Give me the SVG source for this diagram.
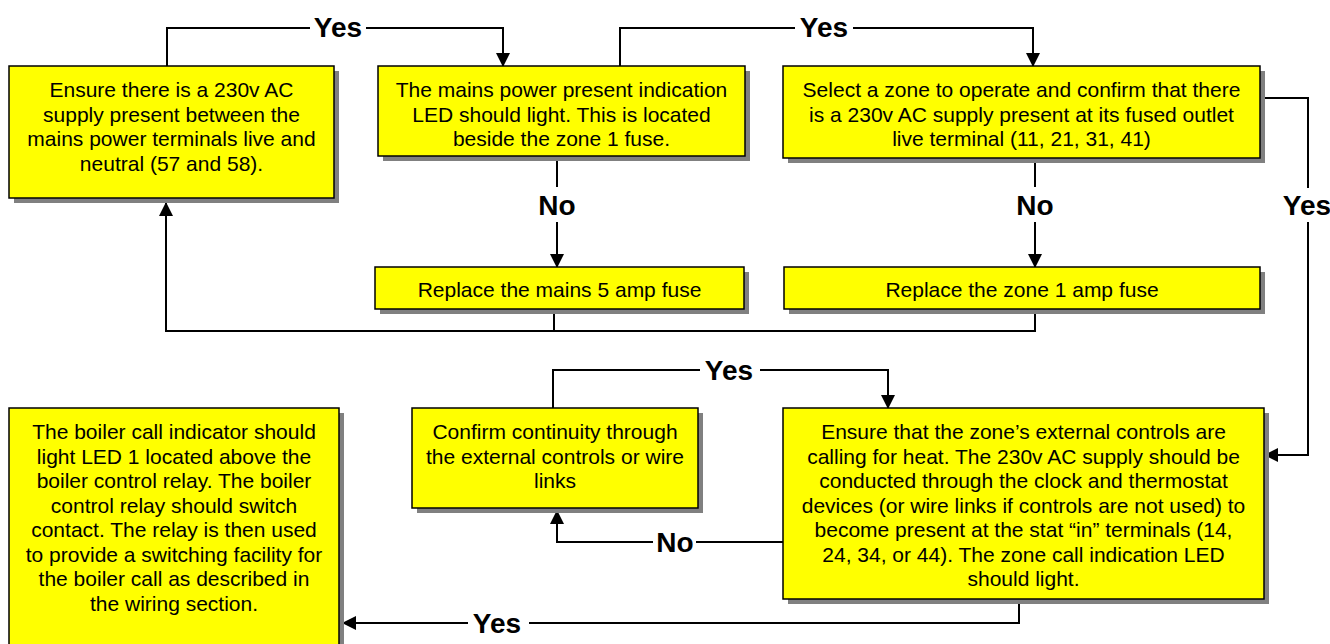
<svg xmlns="http://www.w3.org/2000/svg" width="1330" height="644" viewBox="0 0 1330 644">
  <style>
    .box { fill: #FFFF00; stroke: #000; stroke-width: 1.5; }
    .shadow { fill: #808080; }
    .t { font-family: "Liberation Sans", Arial, sans-serif; font-size: 21px; fill: #000; text-anchor: middle; }
    .lbl { font-family: "Liberation Sans", Arial, sans-serif; font-size: 28px; font-weight: bold; fill: #000; text-anchor: middle; }
    .c { fill: none; stroke: #000; stroke-width: 2; }
    .a { marker-end: url(#arrow); }
  </style>
  <defs>
    <marker id="arrow" viewBox="0 0 14 14" refX="13" refY="7" markerWidth="14" markerHeight="14" markerUnits="userSpaceOnUse" orient="auto">
      <path d="M0,0 L14,7 L0,14 z" fill="#000"/>
    </marker>
  </defs>
  <rect width="1330" height="644" fill="#fff"/>

  <g id="connectors">
    <path class="c" d="M167,66 V28 H310"/>
    <path class="c a" d="M366,28 H503 V66"/>
    <path class="c" d="M620,66 V28 H795"/>
    <path class="c a" d="M853,28 H1033 V66"/>
    <path class="c" d="M557,156 V187"/>
    <path class="c a" d="M557,222 V267"/>
    <path class="c" d="M1035,158 V187"/>
    <path class="c a" d="M1035,222 V267"/>
    <path class="c a" d="M554,309 V331 H166 V203"/>
    <path class="c" d="M1035,309 V331 H554"/>
    <path class="c" d="M1260,98 H1308 V188"/>
    <path class="c a" d="M1308,222 V455 H1265"/>
    <path class="c" d="M553,408 V370 H700"/>
    <path class="c a" d="M760,370 H888 V408"/>
    <path class="c" d="M783,542 H696"/>
    <path class="c a" d="M653,542 H557 V511"/>
    <path class="c" d="M1019,599 V623 H529"/>
    <path class="c a" d="M468,623 H343"/>
    <text class="lbl" x="338" y="37">Yes</text>
    <text class="lbl" x="824" y="37">Yes</text>
    <text class="lbl" x="557" y="215">No</text>
    <text class="lbl" x="1035" y="215">No</text>
    <text class="lbl" x="1307" y="215">Yes</text>
    <text class="lbl" x="729" y="380">Yes</text>
    <text class="lbl" x="675" y="552">No</text>
    <text class="lbl" x="497" y="633">Yes</text>
  </g>

  <g id="n1">
    <rect class="shadow" x="14" y="71" width="325" height="132"/>
    <rect class="box" x="9" y="66" width="325" height="132"/>
    <text class="t" x="171.5" y="97">Ensure there is a 230v AC</text>
    <text class="t" x="171.5" y="121.5">supply present between the</text>
    <text class="t" x="171.5" y="146">mains power terminals live and</text>
    <text class="t" x="171.5" y="170.5">neutral (57 and 58).</text>
  </g>

  <g id="n2">
    <rect class="shadow" x="383" y="71" width="367" height="90"/>
    <rect class="box" x="378" y="66" width="367" height="90"/>
    <text class="t" x="561.5" y="97">The mains power present indication</text>
    <text class="t" x="561.5" y="121.5">LED should light. This is located</text>
    <text class="t" x="561.5" y="146">beside the zone 1 fuse.</text>
  </g>

  <g id="n3">
    <rect class="shadow" x="788" y="71" width="477" height="92"/>
    <rect class="box" x="783" y="66" width="477" height="92"/>
    <text class="t" x="1021.5" y="97">Select a zone to operate and confirm that there</text>
    <text class="t" x="1021.5" y="121.5">is a 230v AC supply present at its fused outlet</text>
    <text class="t" x="1021.5" y="146">live terminal (11, 21, 31, 41)</text>
  </g>

  <g id="n4">
    <rect class="shadow" x="380" y="272" width="369" height="42"/>
    <rect class="box" x="375" y="267" width="369" height="42"/>
    <text class="t" x="559.5" y="297">Replace the mains 5 amp fuse</text>
  </g>

  <g id="n5">
    <rect class="shadow" x="789" y="272" width="476" height="42"/>
    <rect class="box" x="784" y="267" width="476" height="42"/>
    <text class="t" x="1022" y="297">Replace the zone 1 amp fuse</text>
  </g>

  <g id="n6">
    <rect class="shadow" x="417" y="413" width="286" height="100"/>
    <rect class="box" x="412" y="408" width="286" height="100"/>
    <text class="t" x="555" y="439">Confirm continuity through</text>
    <text class="t" x="555" y="463.5">the external controls or wire</text>
    <text class="t" x="555" y="488">links</text>
  </g>

  <g id="n7">
    <rect class="shadow" x="788" y="413" width="481" height="191"/>
    <rect class="box" x="783" y="408" width="481" height="191"/>
    <text class="t" x="1023.5" y="439">Ensure that the zone’s external controls are</text>
    <text class="t" x="1023.5" y="463.5">calling for heat. The 230v AC supply should be</text>
    <text class="t" x="1023.5" y="488">conducted through the clock and thermostat</text>
    <text class="t" x="1023.5" y="512.5">devices (or wire links if controls are not used) to</text>
    <text class="t" x="1023.5" y="537">become present at the stat “in” terminals (14,</text>
    <text class="t" x="1023.5" y="561.5">24, 34, or 44). The zone call indication LED</text>
    <text class="t" x="1023.5" y="586">should light.</text>
  </g>

  <g id="n8">
    <rect class="shadow" x="14" y="413" width="330" height="250"/>
    <rect class="box" x="9" y="408" width="330" height="250"/>
    <text class="t" x="174" y="439">The boiler call indicator should</text>
    <text class="t" x="174" y="463.5">light LED 1 located above the</text>
    <text class="t" x="174" y="488">boiler control relay. The boiler</text>
    <text class="t" x="174" y="512.5">control relay should switch</text>
    <text class="t" x="174" y="537">contact. The relay is then used</text>
    <text class="t" x="174" y="561.5">to provide a switching facility for</text>
    <text class="t" x="174" y="586">the boiler call as described in</text>
    <text class="t" x="174" y="610.5">the wiring section.</text>
  </g>
</svg>
